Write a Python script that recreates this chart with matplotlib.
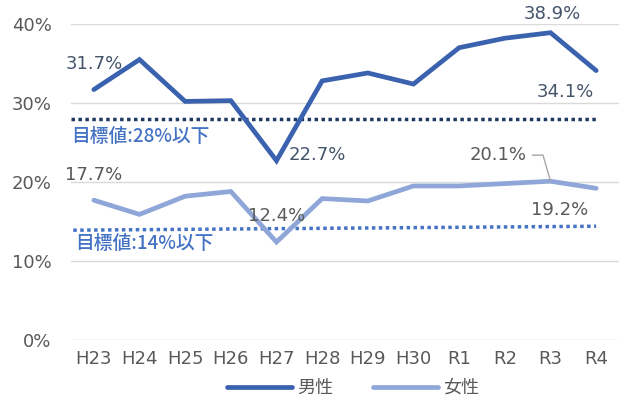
import matplotlib
matplotlib.use("Agg")
import matplotlib.pyplot as plt

plt.rcParams['font.family'] = ['DejaVu Sans', 'Noto Sans CJK JP']

# データ
years = ["H23", "H24", "H25", "H26", "H27", "H28", "H29", "H30", "R1", "R2", "R3", "R4"]
male = [31.7, 35.5, 30.2, 30.3, 22.7, 32.8, 33.8, 32.4, 37.0, 38.2, 38.9, 34.1]
female = [17.7, 15.9, 18.2, 18.8, 12.4, 17.9, 17.6, 19.5, 19.5, 19.8, 20.1, 19.2]
male_target = 28
female_target = [13.9, 14.4]  # 左端・右端

male_color = "#3A62AE"
female_color = "#8EA6D8"
label_gray = "#595959"
fs = 13

fig = plt.figure(figsize=(6.19, 4.01), dpi=100)
ax = fig.add_axes([71 / 619, 61 / 401, 548 / 619, 316 / 401])

x = list(range(len(years)))
ax.plot(x, male, color=male_color, linewidth=3.4, solid_capstyle="round",
        solid_joinstyle="miter", label="男性", zorder=4)
ax.plot(x, female, color=female_color, linewidth=3.4, solid_capstyle="round",
        solid_joinstyle="miter", label="女性", zorder=3)

# 目標値ライン
ax.plot([-0.5, 11], [male_target, male_target], color="#1F3864",
        linestyle=(0, (1, 1)), linewidth=2.5, zorder=2)
ax.plot([-0.45, 11], female_target, color="#4472C4",
        linestyle=(0, (1, 1)), linewidth=2.5, zorder=2)
ax.text(-0.5, 25.7, "目標値:28%以下", color="#4472C4", fontsize=13.5,
        family=['Noto Sans CJK JP'], fontweight="medium", va="center", ha="left")
ax.text(-0.4, 12.2, "目標値:14%以下", color="#4472C4", fontsize=13.5,
        family=['Noto Sans CJK JP'], fontweight="medium", va="center", ha="left")

# データラベル
ax.text(0, 34.9, "31.7%", color="#44546A", fontsize=fs, ha="center", va="center")
ax.text(4.27, 23.4, "22.7%", color="#44546A", fontsize=fs, ha="left", va="center")
ax.text(10.05, 41.3, "38.9%", color="#44546A", fontsize=fs, ha="center", va="center")
ax.text(10.33, 31.4, "34.1%", color="#44546A", fontsize=fs, ha="center", va="center")

ax.text(0, 20.9, "17.7%", color=label_gray, fontsize=fs, ha="center", va="center")
ax.text(4.0, 15.7, "12.4%", color=label_gray, fontsize=fs, ha="center", va="center")
ax.text(10.2, 16.5, "19.2%", color=label_gray, fontsize=fs, ha="center", va="center")
ax.annotate("20.1%", xy=(10, 20.1), xytext=(9.48, 23.4), color=label_gray,
            fontsize=fs, ha="right", va="center",
            arrowprops=dict(arrowstyle="-", color="#A6A6A6", lw=1,
                            shrinkA=2, shrinkB=0,
                            connectionstyle="angle,angleA=0,angleB=106,rad=0",
                            relpos=(1.0, 0.5)))

ax.set_xlim(-0.5, 11.5)
ax.set_ylim(0, 40)
ax.set_yticks([0, 10, 20, 30, 40])
ax.set_yticklabels([f"{v}%" for v in [0, 10, 20, 30, 40]])
ax.set_xticks(x)
ax.set_xticklabels(years)
ax.tick_params(axis="both", length=0, labelsize=fs, labelcolor=label_gray)
ax.tick_params(axis="y", pad=14)
ax.tick_params(axis="x", pad=7)
ax.grid(axis="y", color="#D9D9D9", linewidth=1)
ax.set_axisbelow(True)
for s in ax.spines.values():
    s.set_visible(False)

leg = fig.legend(handles=ax.get_lines()[:2], loc="center", bbox_to_anchor=(353 / 619, 13 / 401),
                 ncol=2, frameon=False, fontsize=fs, handlelength=3.6,
                 columnspacing=2.2, handletextpad=0.3)
for t in leg.get_texts():
    t.set_color(label_gray)

fig.savefig("out.png", dpi=100)
